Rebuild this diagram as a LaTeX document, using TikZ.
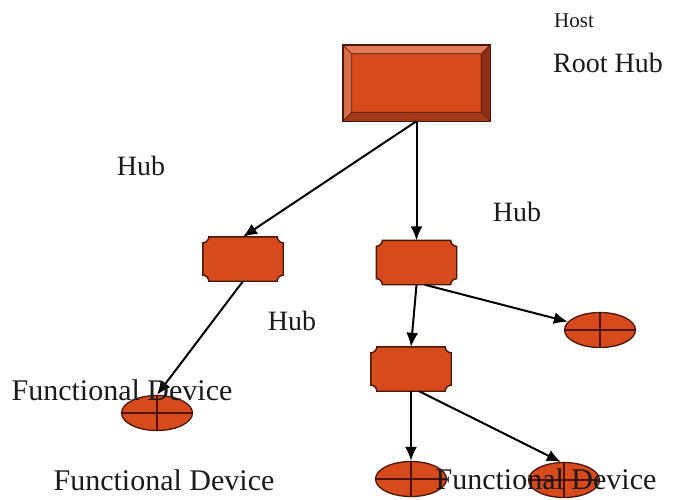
\documentclass[tikz,border=0pt]{standalone}
\usepackage{fontspec}
\setmainfont{Liberation Serif}
\usetikzlibrary{calc,shapes.geometric,arrows.meta}
\definecolor{hubfill}{HTML}{D64A1C}
\definecolor{hubedge}{HTML}{4A180A}
\definecolor{bevtop}{HTML}{E27A55}
\definecolor{bevleft}{HTML}{D86B47}
\definecolor{bevright}{HTML}{8E2E14}
\definecolor{bevbot}{HTML}{A5391A}
\definecolor{crossc}{HTML}{4E1204}
\definecolor{txtc}{HTML}{1A1A1A}
\tikzset{
  hubbox/.style={rectangle, minimum width=80pt, minimum height=44pt, inner sep=0pt},
  hubdraw/.style={fill=hubfill, draw=hubedge, line width=1.4pt},
  devbox/.style={ellipse, draw=hubedge, fill=hubfill, line width=1.3pt, minimum width=71pt, minimum height=35pt, inner sep=0pt},
  crossline/.style={draw=crossc, line width=1.3pt},
  conn/.style={draw=black, line width=2pt, -{Latex[length=14pt,width=12pt]}},
  lbl/.style={text=txtc, inner sep=0pt, font=\fontsize{28}{30}\selectfont},
  lblbig/.style={text=txtc, inner sep=0pt, font=\fontsize{30}{32}\selectfont},
  lblsmall/.style={text=txtc, inner sep=0pt, font=\fontsize{21}{23}\selectfont},
}
\newcommand\hubshape[1]{%
  \path[hubdraw]
    ($(#1.north west)+(6,0)$) -- ($(#1.north east)+(-6,0)$)
    .. controls ($(#1.north east)+(-6,3.3)$) and ($(#1.north east)+(-3.3,6)$) .. ($(#1.north east)+(0,6)$)
    -- ($(#1.south east)+(0,-6)$)
    .. controls ($(#1.south east)+(-3.3,-6)$) and ($(#1.south east)+(-6,-3.3)$) .. ($(#1.south east)+(-6,0)$)
    -- ($(#1.south west)+(6,0)$)
    .. controls ($(#1.south west)+(6,-3.3)$) and ($(#1.south west)+(3.3,-6)$) .. ($(#1.south west)+(0,-6)$)
    -- ($(#1.north west)+(0,6)$)
    .. controls ($(#1.north west)+(3.3,6)$) and ($(#1.north west)+(6,3.3)$) .. cycle;}
\newcommand\devcross[1]{%
  \draw[crossline] (#1.north) -- (#1.south);
  \draw[crossline] (#1.west) -- (#1.east);}
\begin{document}
\begin{tikzpicture}[x=1pt,y=-1pt]
\useasboundingbox[fill=white] (0,0) rectangle (674,499);

% root hub (bevelled box)
\node[rectangle, minimum width=147pt, minimum height=76pt, inner sep=0pt] (root) at (416.5,83) {};
\coordinate (iNW) at ($(root.north west)+(9,9)$);
\coordinate (iNE) at ($(root.north east)+(-9,9)$);
\coordinate (iSE) at ($(root.south east)+(-9,-9)$);
\coordinate (iSW) at ($(root.south west)+(9,-9)$);
\fill[bevtop] (root.north west) -- (root.north east) -- (iNE) -- (iNW) -- cycle;
\fill[bevleft] (root.north west) -- (iNW) -- (iSW) -- (root.south west) -- cycle;
\fill[bevright] (root.north east) -- (root.south east) -- (iSE) -- (iNE) -- cycle;
\fill[bevbot] (root.south west) -- (iSW) -- (iSE) -- (root.south east) -- cycle;
\fill[hubfill] (iNW) rectangle (iSE);
\draw[hubedge, line width=0.7pt] (iNW) rectangle (iSE)
  (root.north west) -- (iNW) (root.north east) -- (iNE)
  (root.south east) -- (iSE) (root.south west) -- (iSW);
\draw[hubedge, line width=1.4pt] (root.north west) rectangle (root.south east);

% hubs
\node[hubbox] (h1) at (243,259) {};
\node[hubbox] (h2) at (416.5,262.5) {};
\node[hubbox] (h3) at (411,369) {};
\hubshape{h1}
\hubshape{h2}
\hubshape{h3}

% functional devices
\node[devbox] (e1) at (157,413) {};
\node[devbox] (e2) at (600,330) {};
\node[devbox] (e3) at (411,479) {};
\node[devbox] (e4) at (564,480) {};
\devcross{e1}
\devcross{e2}
\devcross{e3}
\devcross{e4}

% connectors
\draw[conn] (root.south) -- (h1.north);
\draw[conn] (root.south) -- (h2.north);
\draw[conn] (h1.south) -- (e1.north);
\draw[conn] (h2.south) -- (h3.north);
\draw[conn] (h2.-70) -- (e2);
\draw[conn] (h3.south) -- (e3.north);
\draw[conn] (h3.-70) -- (e4.100);

% labels
\node[lblsmall] (thost) at (574,21) {Host};
\node[lbl] (troot) at (608,63) {Root Hub};
\node[lbl] (thub1) at (141,166) {Hub};
\node[lbl] (thub2) at (517,212) {Hub};
\node[lbl] (thub3) at (292,321) {Hub};
\node[lblbig] (tfd1) at (122,390) {Functional Device};
\node[lblbig] (tfd2) at (164,480) {Functional Device};
\node[lblbig] (tfd3) at (546,479) {Functional Device};
\end{tikzpicture}
\end{document}
